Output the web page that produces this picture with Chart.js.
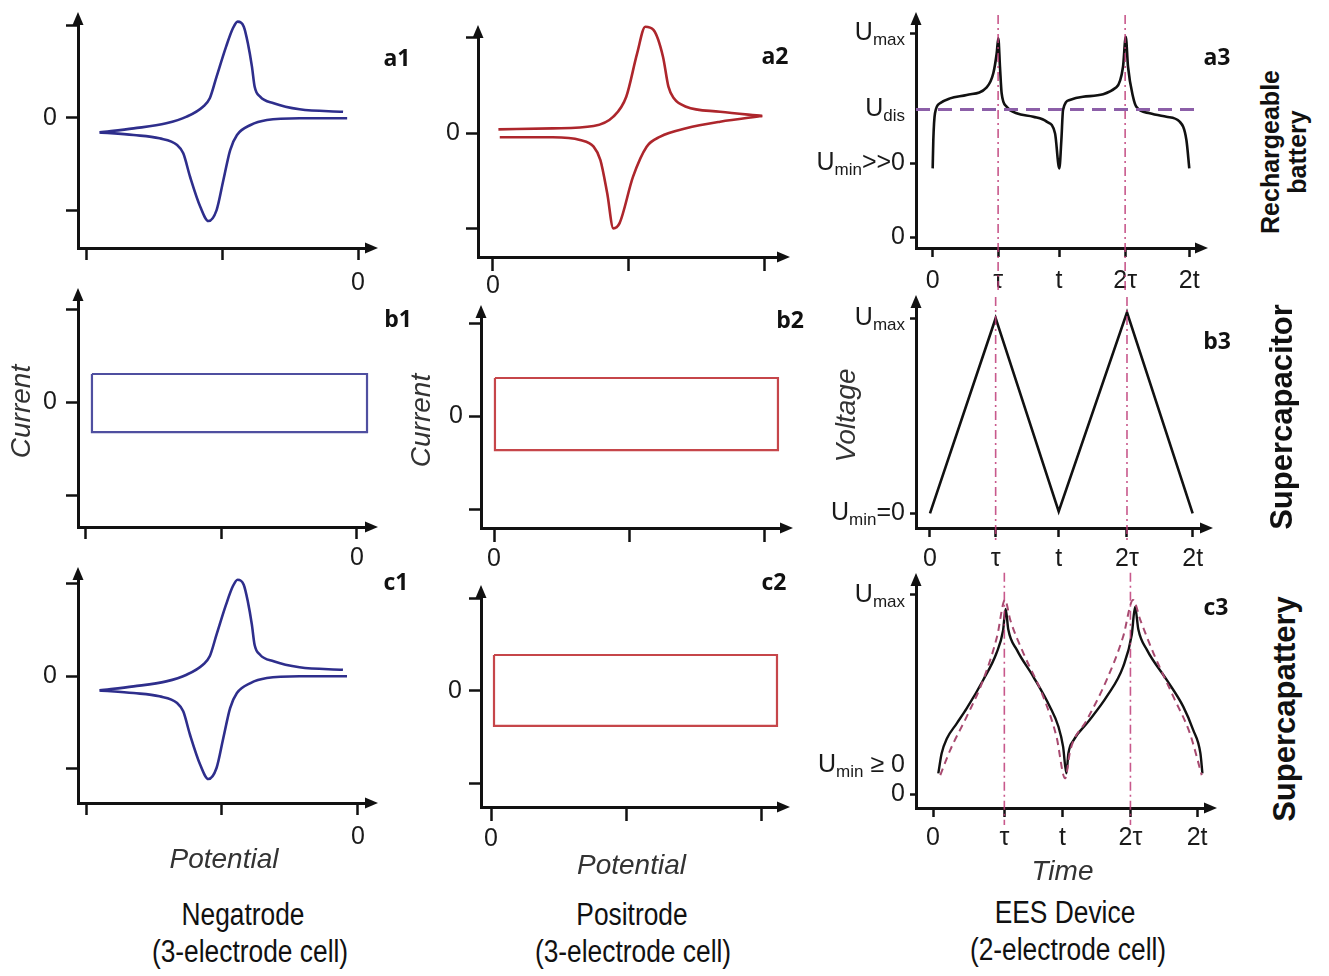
<!DOCTYPE html>
<html lang="en">
<head>
<meta charset="UTF-8">
<title>Negatrode, positrode and EES device behaviour</title>
<script src="https://cdn.jsdelivr.net/npm/chart.js"></script>
<style>
  body { margin: 0; background: #fff; }
  #sheet { position: relative; width: 1329px; height: 976px; overflow: hidden; font-family: 'Liberation Sans', Arial, sans-serif; color: #111; }
  #sheet canvas { position: absolute; }
  .tag { position: absolute; transform: translate(-50%, -50%); font-family: 'Open Sans', sans-serif; font-weight: 700; font-size: 23px; }
  .caption { position: absolute; transform: translate(-50%, -50%) scaleX(0.85); font-size: 31px; white-space: nowrap; }
  .row { position: absolute; transform: translate(-50%, -50%) rotate(-90deg); font-weight: 700; white-space: nowrap; text-align: center; }
</style>
</head>
<body>
<div id="sheet">
  <canvas id="a1" width="390" height="300" style="left:0;top:0"></canvas>
  <canvas id="b1" width="390" height="300" style="left:0;top:276px"></canvas>
  <canvas id="c1" width="390" height="330" style="left:0;top:555px"></canvas>
  <canvas id="a2" width="400" height="300" style="left:400px;top:13px"></canvas>
  <canvas id="b2" width="400" height="300" style="left:400px;top:293px"></canvas>
  <canvas id="c2" width="400" height="312" style="left:400px;top:573px"></canvas>
  <canvas id="a3" width="440" height="300" style="left:800px;top:0"></canvas>
  <canvas id="b3" width="440" height="300" style="left:800px;top:283px"></canvas>
  <canvas id="c3" width="440" height="330" style="left:800px;top:561px"></canvas>

  <div class="tag" style="left:397px;top:57px">a1</div>
  <div class="tag" style="left:775px;top:55px">a2</div>
  <div class="tag" style="left:1217px;top:56px">a3</div>
  <div class="tag" style="left:398px;top:318px">b1</div>
  <div class="tag" style="left:790px;top:319px">b2</div>
  <div class="tag" style="left:1217px;top:340px">b3</div>
  <div class="tag" style="left:396px;top:581px">c1</div>
  <div class="tag" style="left:774px;top:581px">c2</div>
  <div class="tag" style="left:1216px;top:606px">c3</div>

  <div class="row" style="left:1284px;top:152px;font-size:25px;line-height:27px">Rechargeable<br>battery</div>
  <div class="row" style="left:1282px;top:417px;font-size:31px">Supercapacitor</div>
  <div class="row" style="left:1285px;top:709px;font-size:31px">Supercapattery</div>

  <div class="caption" style="left:243px;top:915px">Negatrode</div>
  <div class="caption" style="left:250px;top:952px">(3-electrode cell)</div>
  <div class="caption" style="left:632px;top:915px">Positrode</div>
  <div class="caption" style="left:633px;top:952px">(3-electrode cell)</div>
  <div class="caption" style="left:1065px;top:913px">EES Device</div>
  <div class="caption" style="left:1068px;top:950px">(2-electrode cell)</div>
</div>
<script>
  // ---------- axis ticks ----------
  const negPotentialTicks = [-2, -1, 0];
  const posPotentialTicks = [0, 1, 2];
  const currentTicks = [-1, 0, 1];
  const timeLabels = ['0', 'τ', 't', '2τ', '2t'];
  const batTimeTicks = [0, 1.02, 1.97, 3.0, 4.0];
  const capTimeTicks = [0, 1.0, 1.96, 3.0, 4.0];
  const sctTimeTicks = [0, 1.08, 1.96, 2.99, 4.0];
  const batVoltTicks = [0, 0.363, 0.627, 1];
  const batVoltLabels = ['0', 'U_min>>0', 'U_dis', 'U_max'];
  const capVoltTicks = [0, 1];
  const capVoltLabels = ['U_min=0', 'U_max'];
  const sctVoltTicks = [0, 0.146, 1];
  const sctVoltLabels = ['0', 'U_min ≥ 0', 'U_max'];

  // ---------- negatrode CV (a1, c1) ----------
  const negOxE = [-1.90, -1.65, -1.41, -1.26, -1.14, -1.09, -1.04, -0.97, -0.92, -0.885, -0.84, -0.81, -0.78, -0.76, -0.72, -0.62, -0.43, -0.11];
  const negOxI = [-0.155, -0.112, -0.058, 0.014, 0.122, 0.213, 0.447, 0.771, 0.970, 1.041, 0.987, 0.808, 0.555, 0.338, 0.230, 0.159, 0.094, 0.068];
  const negRedE = [-1.90, -1.65, -1.46, -1.33, -1.285, -1.235, -1.16, -1.10, -1.04, -0.99, -0.94, -0.89, -0.79, -0.67, -0.43, -0.08];
  const negRedI = [-0.155, -0.184, -0.220, -0.292, -0.382, -0.635, -0.959, -1.114, -0.995, -0.670, -0.346, -0.184, -0.076, -0.022, -0.003, -0.003];

  // ---------- positrode CV (a2) ----------
  const posOxE = [0.04, 0.44, 0.74, 0.885, 0.98, 1.06, 1.12, 1.18, 1.25, 1.29, 1.33, 1.42, 1.67, 1.98];
  const posOxI = [0.038, 0.049, 0.073, 0.171, 0.380, 0.834, 1.113, 1.079, 0.799, 0.485, 0.363, 0.275, 0.223, 0.178];
  const posRedE = [0.05, 0.44, 0.64, 0.74, 0.79, 0.84, 0.885, 0.93, 1.03, 1.13, 1.23, 1.42, 1.67, 1.98];
  const posRedI = [-0.045, -0.045, -0.073, -0.143, -0.283, -0.631, -0.998, -0.946, -0.457, -0.143, -0.038, 0.049, 0.118, 0.178];

  // ---------- capacitive boxes (b1, b2, c2) ----------
  const negBoxE = [-1.956, 0.074, 0.074, -1.956, -1.956];
  const negBoxI = [0.301, 0.301, -0.323, -0.323, 0.301];
  const posBoxE = [0.007, 2.096, 2.096, 0.007, 0.007];
  const posBoxI = [0.409, 0.409, -0.366, -0.366, 0.409];
  const posBox2E = [0.022, 2.111, 2.111, 0.022, 0.022];
  const posBox2I = [0.389, 0.389, -0.378, -0.378, 0.389];

  // ---------- galvanostatic profiles (a3, b3, c3), U / Umax ----------
  const batT = [0, 0.01, 0.036, 0.114, 0.27, 0.53, 0.842, 0.945, 0.998, 1.023, 1.049, 1.075, 1.153, 1.309, 1.568, 1.777, 1.907, 1.974, 2.006, 2.032, 2.136, 2.343, 2.864, 2.967, 3.01, 3.045, 3.123, 3.175, 3.383, 3.643, 3.85, 3.955, 4.0];
  const batU = [0.338, 0.477, 0.608, 0.657, 0.681, 0.698, 0.735, 0.804, 0.902, 0.975, 0.836, 0.706, 0.640, 0.608, 0.591, 0.567, 0.510, 0.338, 0.477, 0.624, 0.673, 0.689, 0.735, 0.836, 0.983, 0.836, 0.689, 0.640, 0.608, 0.591, 0.567, 0.477, 0.338];
  const capT = [0, 1.0, 1.96, 3.0, 4.0];
  const capU = [0, 1.0, 0.01, 1.03, 0];
  const sctT = [0.08, 0.13, 0.21, 0.36, 0.51, 0.76, 0.96, 1.06, 1.10, 1.14, 1.27, 1.52, 1.77, 1.90, 1.97, 2.02, 2.05, 2.13, 2.33, 2.63, 2.88, 3.01, 3.06, 3.11, 3.24, 3.54, 3.79, 3.94, 4.05, 4.08];
  const sctU = [0.104, 0.204, 0.279, 0.355, 0.430, 0.573, 0.707, 0.820, 0.930, 0.826, 0.724, 0.589, 0.439, 0.338, 0.238, 0.104, 0.204, 0.271, 0.355, 0.489, 0.640, 0.800, 0.940, 0.826, 0.724, 0.573, 0.439, 0.322, 0.204, 0.104];
  const sctIdealT = [0.11, 0.26, 0.51, 0.76, 0.97, 1.09, 1.17, 1.37, 1.67, 1.87, 2.0, 2.08, 2.33, 2.63, 2.88, 3.03, 3.14, 3.34, 3.64, 3.89, 4.07];
  const sctIdealU = [0.095, 0.221, 0.389, 0.573, 0.791, 0.975, 0.874, 0.707, 0.489, 0.288, 0.079, 0.221, 0.372, 0.573, 0.791, 0.975, 0.874, 0.707, 0.489, 0.305, 0.095];

  const INK = '#111';
  const NAVY = '#2e2e8c';
  const NAVY_LIGHT = '#4f4fa0';
  const RED = '#ad262c';
  const RED_LIGHT = '#c6464a';
  const MARK = 'rgba(190, 60, 120, 0.85)';
  const DIS = '#8c5fa8';
  const unmarked = new Set(['U_dis', 'U_min ≥ 0']);

  const pts = (xs, ys) => xs.map((x, i) => ({ x, y: ys[i] }));

  function curve(xs, ys, color, width, extra) {
    return Object.assign({
      data: pts(xs, ys), borderColor: color, borderWidth: width,
      pointRadius: 0, fill: false, clip: false, cubicInterpolationMode: 'monotone'
    }, extra);
  }

  function polyline(xs, ys, color, width, extra) {
    return Object.assign({
      data: pts(xs, ys), borderColor: color, borderWidth: width,
      pointRadius: 0, fill: false, clip: false, tension: 0
    }, extra);
  }

  // dash-dot guide at τ / 2τ, runs past the plot area
  function guide(x, y0, y1) {
    return polyline([x, x], [y0, y1], MARK, 1.6, { borderDash: [9, 4, 2, 4] });
  }

  // arrow heads on the ends of both axes
  const axisArrows = {
    id: 'axisArrows',
    afterDraw(chart) {
      const { ctx, chartArea: a } = chart;
      ctx.save();
      ctx.fillStyle = INK;
      ctx.beginPath();
      ctx.moveTo(a.right + 8, a.bottom);
      ctx.lineTo(a.right - 5, a.bottom - 5.5);
      ctx.lineTo(a.right - 5, a.bottom + 5.5);
      ctx.closePath();
      ctx.fill();
      ctx.beginPath();
      ctx.moveTo(a.left, a.top - 8);
      ctx.lineTo(a.left - 5.5, a.top + 5);
      ctx.lineTo(a.left + 5.5, a.top + 5);
      ctx.closePath();
      ctx.fill();
      ctx.restore();
    }
  };

  // y tick labels like "U_max" drawn with a subscript
  function subscriptTicks(values, labels, gap) {
    return {
      id: 'subscriptTicks',
      afterDraw(chart) {
        const { ctx } = chart;
        const y = chart.scales.y;
        const right = chart.chartArea.left - gap;
        const big = '25px "Liberation Sans"';
        const small = '17px "Liberation Sans"';
        ctx.save();
        ctx.fillStyle = '#1a1a1a';
        ctx.textBaseline = 'middle';
        ctx.textAlign = 'left';
        values.forEach((v, i) => {
          const [main, tail = ''] = labels[i].split('_');
          const sub = (tail.match(/^[a-z]+/) || [''])[0];
          const rest = tail.slice(sub.length);
          ctx.font = big;
          const wMain = ctx.measureText(main).width;
          const wRest = ctx.measureText(rest).width;
          ctx.font = small;
          const wSub = ctx.measureText(sub).width;
          let x = right - wMain - wSub - wRest;
          const py = y.getPixelForValue(v);
          ctx.font = big;
          ctx.fillText(main, x, py);
          x += wMain;
          ctx.font = small;
          ctx.fillText(sub, x, py + 7);
          x += wSub;
          ctx.font = big;
          ctx.fillText(rest, x, py);
        });
        ctx.restore();
      }
    };
  }

  function axis(o) {
    return {
      type: 'linear',
      min: o.min,
      max: o.max,
      afterBuildTicks: s => { s.ticks = o.ticks.map(v => ({ value: v })); },
      afterFit: s => {
        if (s.isHorizontal()) s.height = o.size; else s.width = o.size;
        s.paddingTop = s.paddingBottom = s.paddingLeft = s.paddingRight = 0;
      },
      border: { display: true, color: INK, width: 3 },
      grid: {
        drawOnChartArea: false,
        drawTicks: true,
        tickLength: o.tickLength,
        tickWidth: 2.5,
        tickColor: o.tickColor || INK
      },
      ticks: {
        display: o.labels !== false,
        autoSkip: false,
        maxRotation: 0,
        padding: o.pad,
        color: '#1a1a1a',
        font: { family: 'Liberation Sans', size: 25 },
        callback: o.callback
      },
      title: o.title
        ? { display: true, text: o.title, color: '#333', font: { family: 'Liberation Sans', size: 28, style: 'italic' }, padding: o.titlePad }
        : { display: false }
    };
  }

  const zeroOnly = v => (v === 0 ? '0' : '');
  const timeLabel = (v, i) => timeLabels[i];

  function panel(id, p) {
    return new Chart(document.getElementById(id), {
      type: 'line',
      data: { datasets: p.datasets },
      options: {
        responsive: false,
        animation: false,
        events: [],
        layout: { padding: { top: 20, right: p.padRight, left: 0, bottom: 0 } },
        scales: { x: axis(p.x), y: axis(p.y) },
        plugins: { legend: { display: false }, tooltip: { enabled: false } }
      },
      plugins: p.plugins || [axisArrows]
    });
  }

  // ---------- column 1: negatrode ----------
  panel('a1', {
    padRight: 20,
    x: { min: -2.059, max: 0.088, ticks: negPotentialTicks, size: 52, tickLength: 12, pad: 8, callback: zeroOnly },
    y: { min: -1.405, max: 1.059, ticks: currentTicks, size: 78, tickLength: 12, pad: 9, callback: zeroOnly },
    datasets: [curve(negOxE, negOxI, NAVY, 2.6), curve(negRedE, negRedI, NAVY, 2.6)]
  });
  panel('b1', {
    padRight: 20,
    x: { min: -2.059, max: 0.096, ticks: negPotentialTicks, size: 49, tickLength: 12, pad: 4, callback: zeroOnly },
    y: { min: -1.344, max: 1.14, ticks: currentTicks, size: 78, tickLength: 12, pad: 9, callback: zeroOnly, title: 'Current', titlePad: 5 },
    datasets: [polyline(negBoxE, negBoxI, NAVY_LIGHT, 2.2)]
  });
  panel('c1', {
    padRight: 20,
    x: { min: -2.059, max: 0.089, ticks: negPotentialTicks, size: 82, tickLength: 12, pad: 7, callback: zeroOnly, title: 'Potential', titlePad: 8 },
    y: { min: -1.373, max: 1.092, ticks: currentTicks, size: 78, tickLength: 12, pad: 9, callback: zeroOnly },
    datasets: [curve(negOxE, negOxI, NAVY, 2.6), curve(negRedE, negRedI, NAVY, 2.6)]
  });

  // ---------- column 2: positrode ----------
  panel('a2', {
    padRight: 18,
    x: { min: -0.110, max: 2.125, ticks: posPotentialTicks, size: 56, tickLength: 14, pad: 0, callback: zeroOnly },
    y: { min: -1.298, max: 1.047, ticks: currentTicks, size: 78, tickLength: 12, pad: 6, callback: zeroOnly },
    datasets: [curve(posOxE, posOxI, RED, 2.6), curve(posRedE, posRedI, RED, 2.6)]
  });
  panel('b2', {
    padRight: 15,
    x: { min: -0.096, max: 2.148, ticks: posPotentialTicks, size: 65, tickLength: 14, pad: 2, callback: zeroOnly },
    y: { min: -1.204, max: 1.108, ticks: currentTicks, size: 81, tickLength: 12, pad: 6, callback: zeroOnly, title: 'Current', titlePad: 5 },
    datasets: [polyline(posBoxE, posBoxI, RED_LIGHT, 2.2)]
  });
  panel('c2', {
    padRight: 18,
    x: { min: -0.074, max: 2.148, ticks: posPotentialTicks, size: 78, tickLength: 14, pad: 3, callback: zeroOnly, title: 'Potential', titlePad: 2 },
    y: { min: -1.254, max: 1.059, ticks: currentTicks, size: 81, tickLength: 12, pad: 7, callback: zeroOnly },
    datasets: [polyline(posBox2E, posBox2I, RED_LIGHT, 2.2)]
  });

  // ---------- column 3: two-electrode device ----------
  const hideUnmarked = labels => ctx => (unmarked.has(labels[ctx.index]) ? 'rgba(0,0,0,0)' : INK);
  const udis = batVoltTicks[batVoltLabels.indexOf('U_dis')];

  panel('a3', {
    padRight: 40,
    x: { min: -0.26, max: 4.167, ticks: batTimeTicks, size: 52, tickLength: 9, pad: 9, callback: timeLabel },
    y: { min: -0.052, max: 1.065, ticks: batVoltTicks, size: 116, tickLength: 6, labels: false, tickColor: hideUnmarked(batVoltLabels) },
    datasets: [
      polyline([-0.26, 4.19], [udis, udis], DIS, 3, { borderDash: [14, 8] }),
      guide(batTimeTicks[1], 1.09, -0.268),
      guide(batTimeTicks[3], 1.09, -0.268),
      curve(batT, batU, INK, 2.6)
    ],
    plugins: [axisArrows, subscriptTicks(batVoltTicks, batVoltLabels, 11)]
  });
  panel('b3', {
    padRight: 35,
    x: { min: -0.213, max: 4.188, ticks: capTimeTicks, size: 55, tickLength: 9, pad: 7, callback: timeLabel },
    y: { min: -0.075, max: 1.078, ticks: capVoltTicks, size: 116, tickLength: 6, labels: false, title: 'Voltage', titlePad: 30 },
    datasets: [
      guide(capTimeTicks[1], 1.109, -0.137),
      guide(capTimeTicks[3], 1.109, -0.137),
      polyline(capT, capU, INK, 2.6)
    ],
    plugins: [axisArrows, subscriptTicks(capVoltTicks, capVoltLabels, 11)]
  });
  panel('c3', {
    padRight: 31,
    x: { min: -0.258, max: 4.18, ticks: sctTimeTicks, size: 83, tickLength: 9, pad: 6, callback: timeLabel, title: 'Time', titlePad: 2 },
    y: { min: -0.070, max: 1.07, ticks: sctVoltTicks, size: 116, tickLength: 6, labels: false, tickColor: hideUnmarked(sctVoltLabels) },
    datasets: [
      guide(sctTimeTicks[1], 1.111, -0.156),
      guide(sctTimeTicks[3], 1.111, -0.156),
      curve(sctIdealT, sctIdealU, '#a84a70', 2, { borderDash: [7, 5] }),
      curve(sctT, sctU, INK, 2.4)
    ],
    plugins: [axisArrows, subscriptTicks(sctVoltTicks, sctVoltLabels, 11)]
  });
</script>
</body>
</html>
